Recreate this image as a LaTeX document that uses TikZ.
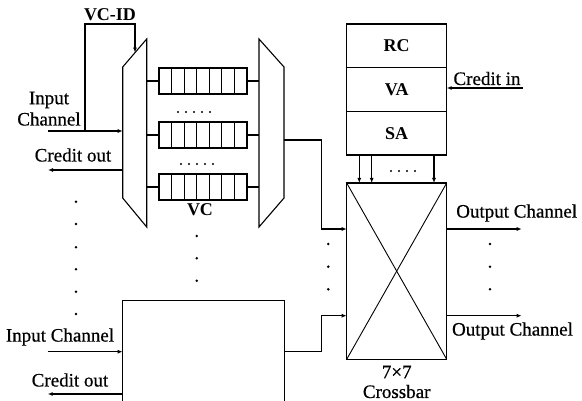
\documentclass[tikz,border=0pt]{standalone}
\usepackage{fontspec}
\setmainfont{Liberation Serif}
\newfontfamily\lblfont[FakeBold=0.6]{Liberation Serif}
\usetikzlibrary{arrows.meta}
\begin{document}
\begin{tikzpicture}[x=1pt,y=-1pt,
  line width=1.1pt,
  arr/.style={-{Latex[length=5pt,width=4pt]}},
  lbl/.style={inner sep=0pt,font=\fontsize{19}{21}\lblfont},
  blbl/.style={inner sep=0pt,font=\fontsize{18}{20}\selectfont\bfseries},
  dotn/.style={circle,fill,inner sep=0pt,minimum size=2.8pt}]
\useasboundingbox (0,0) rectangle (582,401);
% left demux
\draw (122.7,67) -- (146.7,39) -- (146.7,227) -- (122.7,198) -- cycle;
% right mux
\draw (259,39) -- (284,67) -- (284,198) -- (259,227) -- cycle;
% queues
\foreach \yc/\nm in {81/q1,135/q2,187/q3}{
  \draw (159,\yc-13) rectangle (247,\yc+13);
  \foreach \i in {1,...,6}{\draw (159+\i*12.571,\yc-13) -- (159+\i*12.571,\yc+13);}
  \draw (146.7,\yc) -- (159,\yc);
  \draw (247,\yc) -- (259,\yc);
}
\foreach \i in {0,...,4}{
  \node[dotn,minimum size=2.4pt] (da\i) at (178+\i*8,112) {};
  \node[dotn,minimum size=2.4pt] (db\i) at (181+\i*8,164) {};
}
\node[blbl] (vc) at (200,210) {VC};
% VC-ID feedback
\node[blbl] (vcid) at (110,15) {VC-ID};
\coordinate (in1) at (48,131);
\coordinate (in1e) at (122.7,131);
\coordinate (fb) at (85,131);
\coordinate (fbt) at (135,52.6);
\draw[arr] (in1) -- (in1e);
\draw[arr] (fb) -- (85,24) -- (135,24) -- (fbt);
\node[lbl] (inp1) at (49,100) {Input};
\node[lbl] (ch1) at (49,119) {Channel};
\coordinate (co1s) at (122.7,170);
\coordinate (co1e) at (48,170);
\draw[arr] (co1s) -- (co1e);
\node[lbl] (co1) at (73,155) {Credit out};
% left dots
\foreach \y [count=\k] in {201.7,224,247.3,269.3,291.7,314}{\node[dotn] (ld\k) at (76,\y) {};}
\foreach \y [count=\k] in {236,258.3,280.7}{\node[dotn] (md\k) at (196.7,\y) {};}
% bottom box
\draw (122.7,401) -- (122.7,300.7) -- (284.3,300.7) -- (284.3,401);
\coordinate (in2) at (47.7,351.7);
\coordinate (in2e) at (122.7,351.7);
\draw[arr] (in2) -- (in2e);
\node[lbl] (inp2) at (60,337) {Input Channel};
\coordinate (co2s) at (122.7,394);
\coordinate (co2e) at (47.7,394);
\draw[arr] (co2s) -- (co2e);
\node[lbl] (co2) at (70,380) {Credit out};
% control stack
\draw (346.7,24) rectangle (446.7,155);
\draw (346.7,67.7) -- (446.7,67.7);
\draw (346.7,111.7) -- (446.7,111.7);
\node[blbl] (rc) at (396.7,45.5) {RC};
\node[blbl] (va) at (396.7,89.5) {VA};
\node[blbl] (sa) at (396.7,133.5) {SA};
\coordinate (ci) at (522.7,88);
\coordinate (cie) at (446.7,88);
\draw[arr] (ci) -- (cie);
\node[lbl,anchor=base] (cit) at (487,85) {Credit in};
% crossbar
\draw (346.7,183) rectangle (446.7,359.3);
\draw[line width=0.9pt] (346.7,183) -- (446.7,359.3);
\draw[line width=0.9pt] (446.7,183) -- (346.7,359.3);
\foreach \x in {359.3,371.7,434}{\draw[arr] (\x,155) -- (\x,183);}
\foreach \i in {0,...,3}{\node[dotn,minimum size=2.4pt] (sd\i) at (391+\i*8,171) {};}
\node[lbl] (x7) at (396.7,372) {7\texttimes 7};
\node[lbl] (cb) at (396.7,391.5) {Crossbar};
% mux outputs to crossbar
\draw[arr] (284,140) -- (321.7,140) -- (321.7,229) -- (346.7,229);
\draw[arr] (284.3,351.7) -- (321.7,351.7) -- (321.7,315.7) -- (346.7,315.7);
\foreach \y [count=\k] in {244,266.7,289.3}{\node[dotn] (cd\k) at (328.3,\y) {};}
% outputs
\draw[arr] (446.7,229) -- (521.7,229);
\draw[arr] (446.7,315.7) -- (521.7,315.7);
\node[lbl] (oc1) at (516.7,213) {Output Channel};
\node[lbl] (oc2) at (512.5,331) {Output Channel};
\foreach \y [count=\k] in {244,266.7,289.3}{\node[dotn] (od\k) at (490,\y) {};}
\end{tikzpicture}
\end{document}
